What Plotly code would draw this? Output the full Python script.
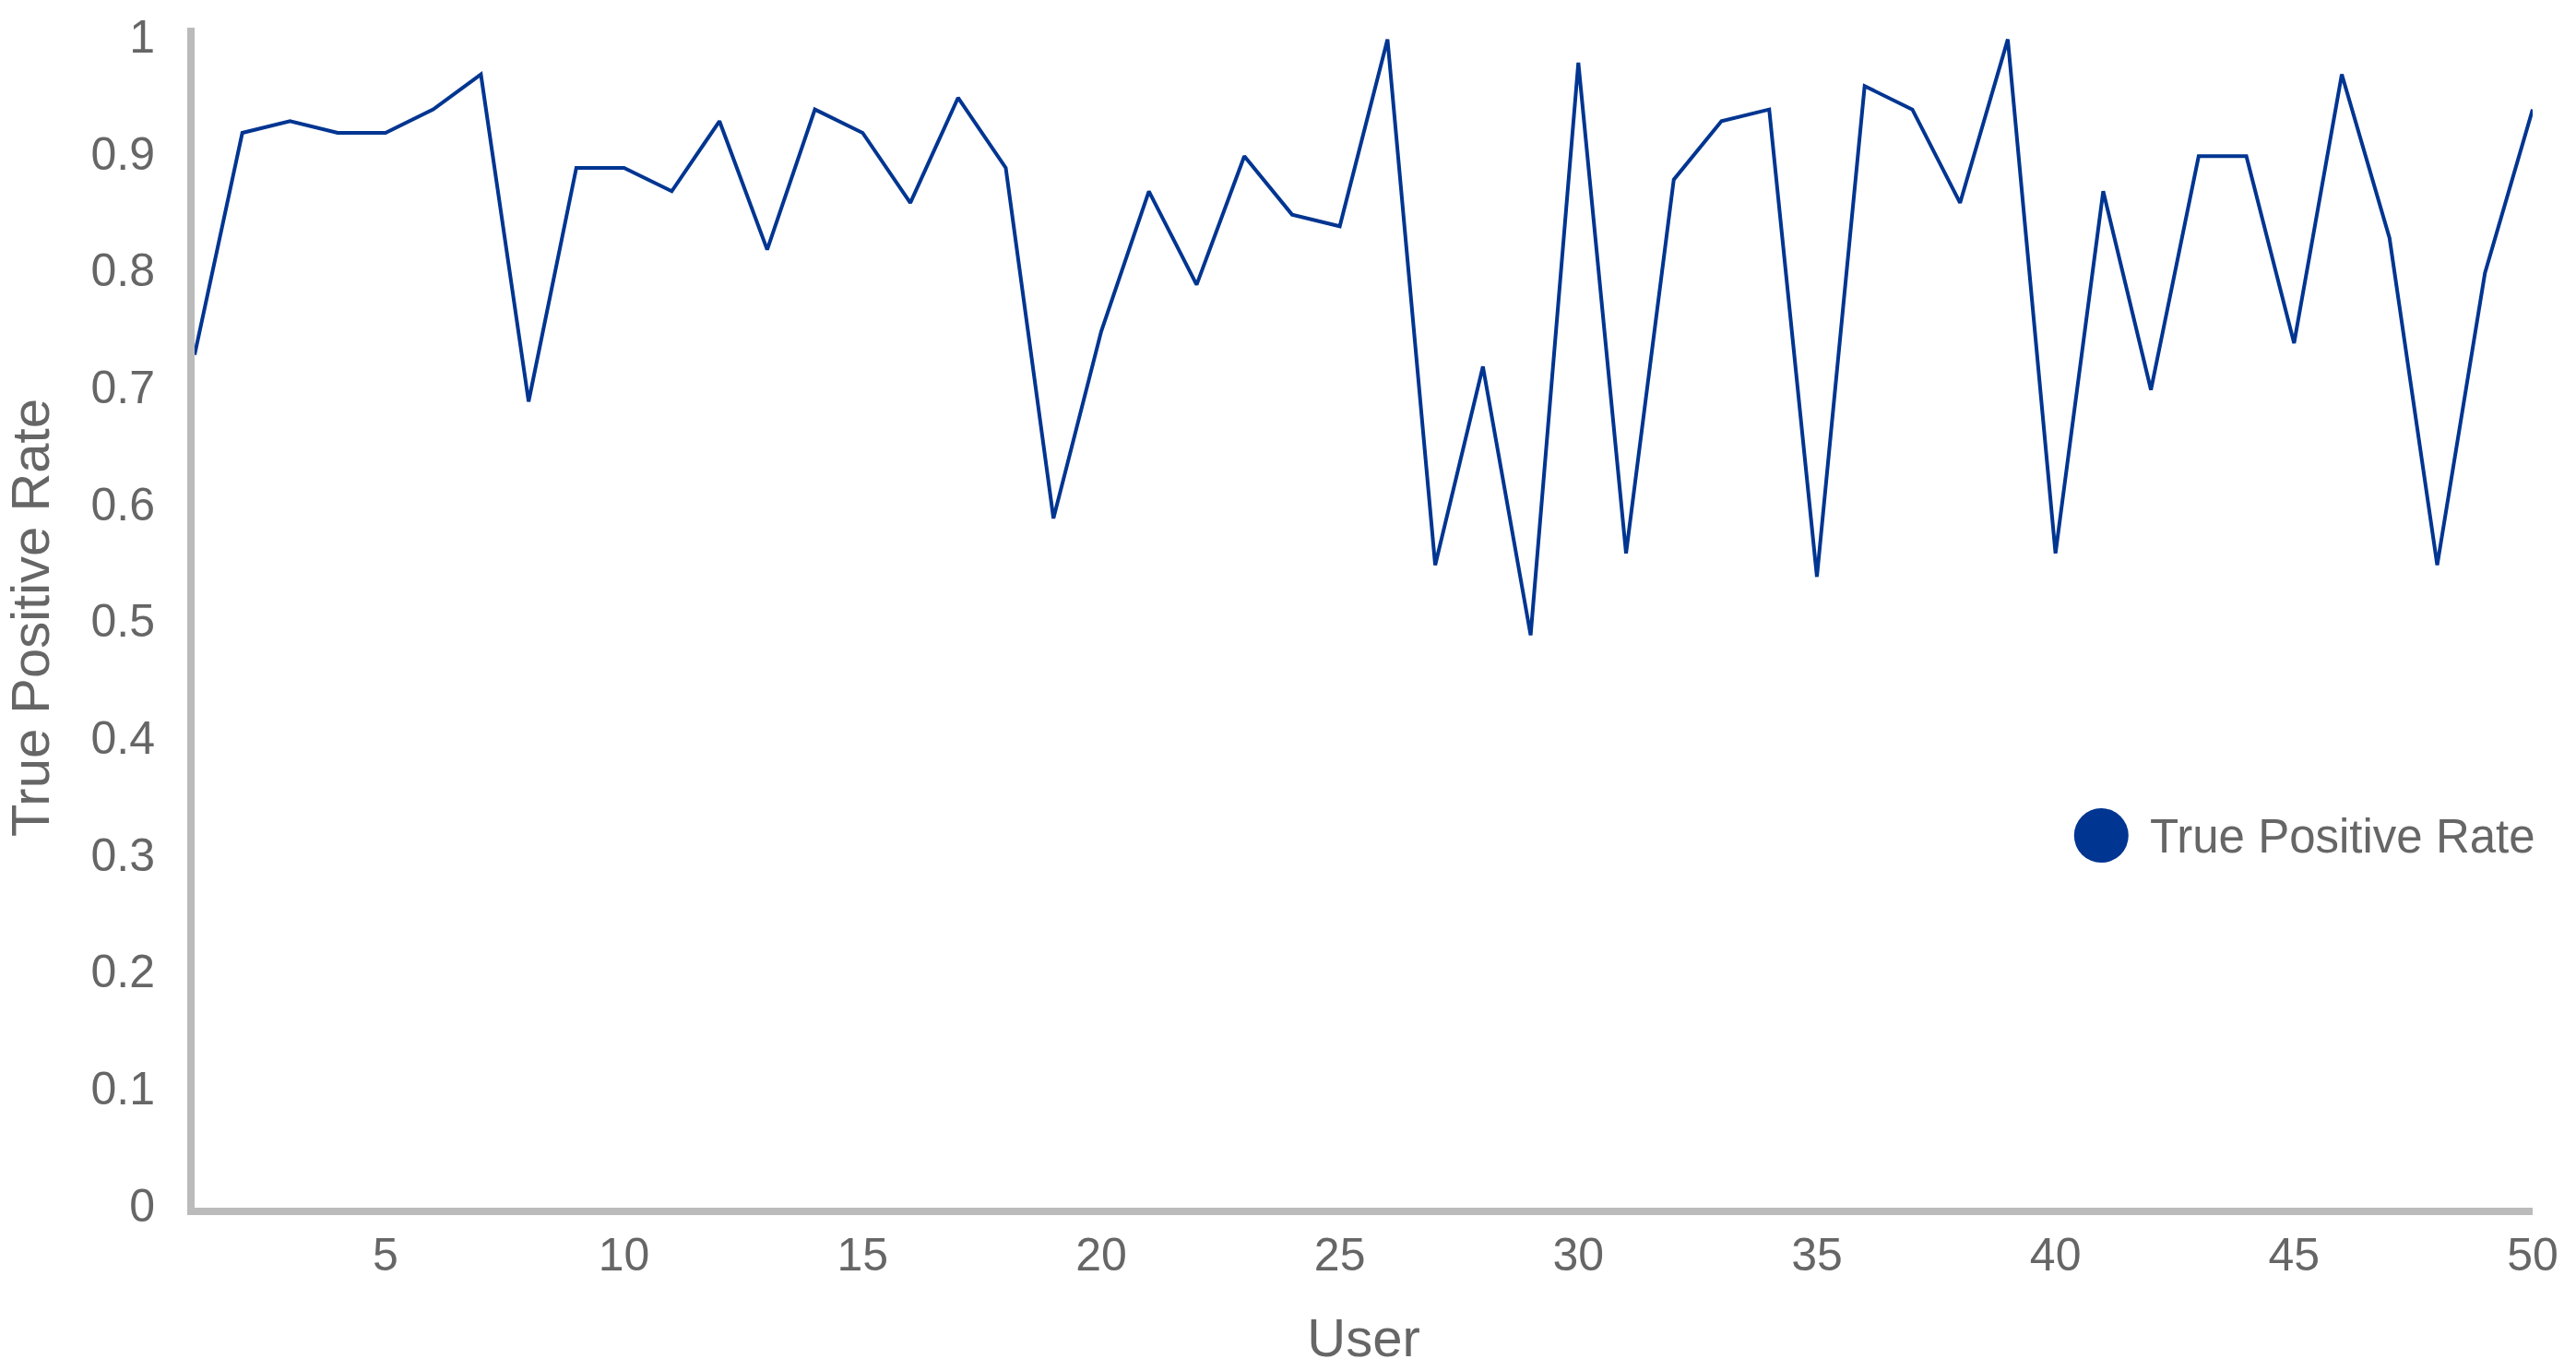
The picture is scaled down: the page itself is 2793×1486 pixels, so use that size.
import plotly.graph_objects as go

users = list(range(1, 51))
tpr = [0.73, 0.92, 0.93, 0.92, 0.92, 0.94, 0.97, 0.69, 0.89, 0.89,
       0.87, 0.93, 0.82, 0.94, 0.92, 0.86, 0.95, 0.89, 0.59, 0.75,
       0.87, 0.79, 0.90, 0.85, 0.84, 1.00, 0.55, 0.72, 0.49, 0.98,
       0.56, 0.88, 0.93, 0.94, 0.54, 0.96, 0.94, 0.86, 1.00, 0.56,
       0.87, 0.70, 0.90, 0.90, 0.74, 0.97, 0.83, 0.55, 0.80, 0.94]
series_name = "True Positive Rate"
x_title = "User"
y_title = "True Positive Rate"
x_ticks = [5, 10, 15, 20, 25, 30, 35, 40, 45, 50]
y_ticks = [0, 0.1, 0.2, 0.3, 0.4, 0.5, 0.6, 0.7, 0.8, 0.9, 1]

LINE_COLOR = "#003591"
AXIS_COLOR = "#BBBBBB"
TEXT_COLOR = "#666666"
FONT = "Liberation Sans, Arial, sans-serif"

fig = go.Figure()
fig.add_trace(go.Scatter(
    x=users, y=tpr, mode="lines", name=series_name,
    line=dict(color=LINE_COLOR, width=4), showlegend=False,
))

fig.update_layout(
    width=2793, height=1486,
    paper_bgcolor="white", plot_bgcolor="white",
    margin=dict(l=211, r=47, t=18, b=165, pad=0),
    font=dict(family=FONT, color=TEXT_COLOR, size=50),
    showlegend=False,
    xaxis=dict(
        range=[1, 50], tickvals=x_ticks, showgrid=False, zeroline=False,
        showline=True, linecolor=AXIS_COLOR, linewidth=8,
        ticks="", ticklabelstandoff=0,
        tickfont=dict(size=50, color=TEXT_COLOR, family=FONT),
        title=dict(text=x_title, font=dict(size=58, color=TEXT_COLOR, family=FONT), standoff=45),
    ),
    yaxis=dict(
        range=[0, 1.010], tickvals=y_ticks, showgrid=False, zeroline=False,
        showline=True, linecolor=AXIS_COLOR, linewidth=8,
        ticks="", ticklabelstandoff=25, ticklabelshift=-3,
        tickfont=dict(size=50, color=TEXT_COLOR, family=FONT),
        title=dict(text=y_title, font=dict(size=58, color=TEXT_COLOR, family=FONT), standoff=32),
    ),
)

# legend drawn manually (large circle marker as in the reference)
fig.add_shape(type="circle", xref="paper", yref="paper",
              xsizemode="pixel", ysizemode="pixel",
              xanchor=0.8155, yanchor=0.3154,
              x0=-29.5, x1=29.5, y0=-29.5, y1=29.5,
              fillcolor=LINE_COLOR, line=dict(width=0))
fig.add_annotation(xref="paper", yref="paper", x=0.8355, y=0.3150,
                   xanchor="left", yanchor="middle", showarrow=False,
                   text=series_name, font=dict(size=51, color=TEXT_COLOR, family=FONT))

fig.write_html("out.html", config={"displayModeBar": False},
               post_script="document.body.style.margin='0';")
